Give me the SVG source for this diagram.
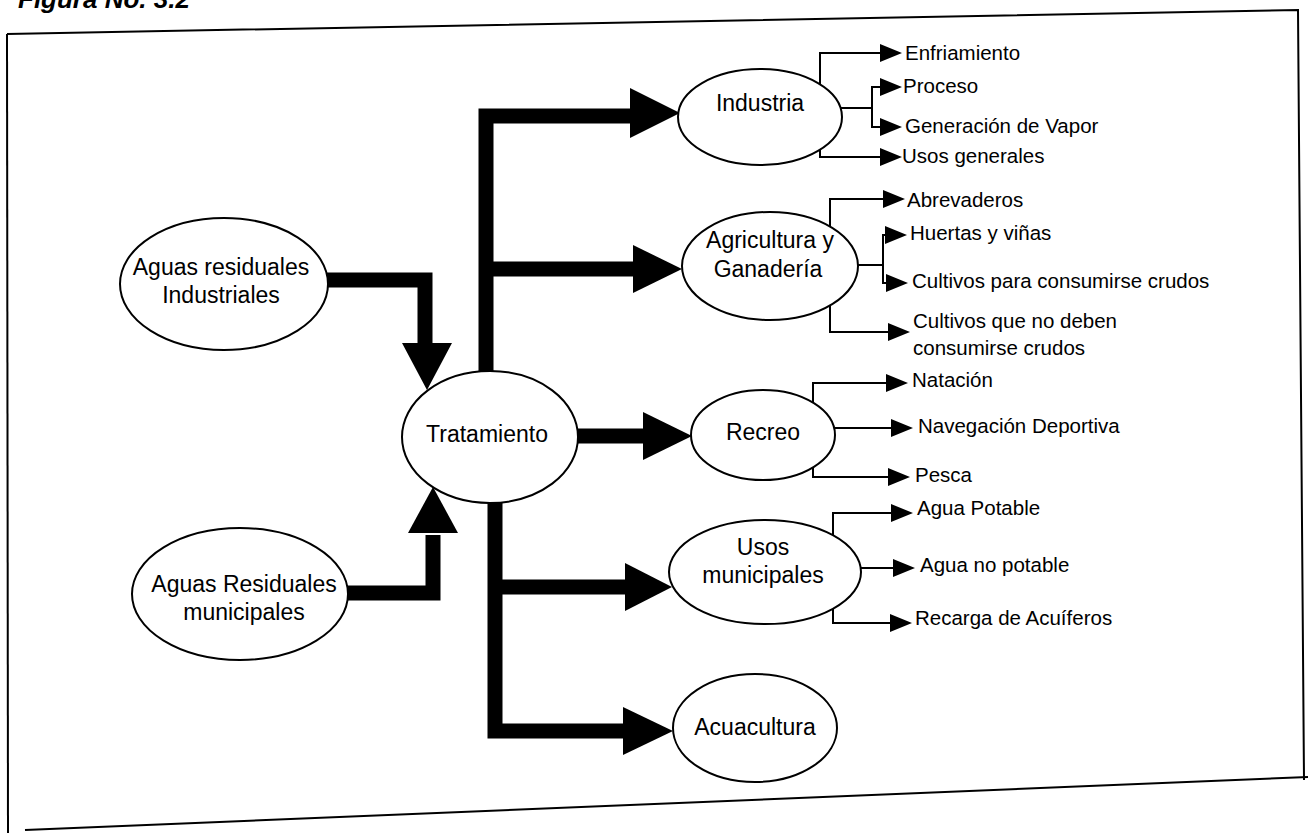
<svg xmlns="http://www.w3.org/2000/svg" width="1308" height="833" viewBox="0 0 1308 833">
<defs>
<style>
.node{fill:#fff;stroke:#000;stroke-width:2}
.big{font-family:"Liberation Sans",Arial,sans-serif;font-size:23px;fill:#000}
.lbl{font-family:"Liberation Sans",Arial,sans-serif;font-size:20.5px;fill:#000}
.thick{fill:none;stroke:#000;stroke-width:15;stroke-linejoin:miter}
.thin{fill:none;stroke:#000;stroke-width:2}
.frame{fill:none;stroke:#000;stroke-width:2}
.head{fill:#000}
</style>
</defs>
<rect width="1308" height="833" fill="#fff"/>
<text x="18" y="8" font-family="Liberation Sans,Arial,sans-serif" font-size="26" font-weight="bold" font-style="italic">Figura No. 3.2</text>
<g id="frame">
<path class="frame" d="M7,34 L1298,10 L1304,780"/>
<path class="frame" d="M7,34 L8,833"/>
<path class="frame" d="M25,830 L1308,777"/>
</g>
<g id="connectors">
<path class="thick" d="M326,280 L425,280 L425,345"/>
<path class="head" d="M402,343 L452,343 L427,390 Z"/>
<path class="thick" d="M346,593 L433,593 L433,535"/>
<path class="head" d="M408,533 L458,533 L433,487 Z"/>
<path class="thick" d="M486,375 L486,116 L632,116"/>
<path class="head" d="M630,88 L680,113 L630,138 Z"/>
<path class="thick" d="M486,269 L634,269"/>
<path class="head" d="M633,245 L682,269 L633,293 Z"/>
<path class="thick" d="M576,436 L645,436"/>
<path class="head" d="M643,412 L692,436 L643,460 Z"/>
<path class="thick" d="M495,500 L495,731 L625,731"/>
<path class="head" d="M623,707 L673,731 L623,755 Z"/>
<path class="thick" d="M495,587 L627,587"/>
<path class="head" d="M625,563 L672,587 L625,611 Z"/>
<path class="thin" d="M880,53 L820,53 L820,157 L880,157"/>
<path class="thin" d="M840,108 L872,108 M880,87 L872,87 L872,127 L880,127"/>
<path class="head" d="M880,44 L902,53 L880,62 Z M880,78 L902,87 L880,96 Z M880,118 L902,127 L880,136 Z M880,148 L902,157 L880,166 Z"/>
<path class="thin" d="M883,199 L830,199 L830,332 L888,332"/>
<path class="thin" d="M856,265 L883,265 M886,235 L883,235 L883,283 L886,283"/>
<path class="head" d="M883,190 L905,199 L883,208 Z M885,226 L907,235 L885,244 Z M886,274 L908,283 L886,292 Z M888,323 L910,332 L888,341 Z"/>
<path class="thin" d="M886,383 L813,383 L813,477 L888,477"/>
<path class="thin" d="M833,428 L891,428"/>
<path class="head" d="M886,374 L908,383 L886,392 Z M891,419 L913,428 L891,437 Z M888,468 L910,477 L888,486 Z"/>
<path class="thin" d="M891,513 L833,513 L833,623 L890,623"/>
<path class="thin" d="M860,568 L893,568"/>
<path class="head" d="M891,504 L913,513 L891,522 Z M893,559 L915,568 L893,577 Z M890,614 L912,623 L890,632 Z"/>
</g>
<g id="n-ind-in">
<ellipse class="node" cx="224" cy="284" rx="104" ry="66"/>
<text class="big" x="221" y="275" text-anchor="middle">Aguas residuales</text>
<text class="big" x="221" y="303" text-anchor="middle">Industriales</text>
</g>
<g id="n-mun-in">
<ellipse class="node" cx="240" cy="594" rx="108" ry="66"/>
<text class="big" x="244" y="592" text-anchor="middle">Aguas Residuales</text>
<text class="big" x="244" y="620" text-anchor="middle">municipales</text>
</g>
<g id="n-trat">
<ellipse class="node" cx="490" cy="437" rx="88" ry="66"/>
<text class="big" x="487" y="442" text-anchor="middle">Tratamiento</text>
</g>
<g id="n-industria">
<ellipse class="node" cx="760" cy="117" rx="82" ry="48"/>
<text class="big" x="760" y="111" text-anchor="middle">Industria</text>
</g>
<g id="n-agri">
<ellipse class="node" cx="770" cy="266" rx="88" ry="54"/>
<text class="big" x="770" y="248" text-anchor="middle">Agricultura y</text>
<text class="big" x="768" y="277" text-anchor="middle">Ganadería</text>
</g>
<g id="n-recreo">
<ellipse class="node" cx="763" cy="435" rx="72" ry="45"/>
<text class="big" x="763" y="440" text-anchor="middle">Recreo</text>
</g>
<g id="n-usos">
<ellipse class="node" cx="765" cy="572" rx="96" ry="52"/>
<text class="big" x="763" y="555" text-anchor="middle">Usos</text>
<text class="big" x="763" y="583" text-anchor="middle">municipales</text>
</g>
<g id="n-acua">
<ellipse class="node" cx="755" cy="728" rx="82" ry="54"/>
<text class="big" x="755" y="735" text-anchor="middle">Acuacultura</text>
</g>
<g id="labels">
<text class="lbl" x="905" y="60">Enfriamiento</text>
<text class="lbl" x="903" y="93">Proceso</text>
<text class="lbl" x="905" y="133">Generación de Vapor</text>
<text class="lbl" x="902" y="163">Usos generales</text>
<text class="lbl" x="907" y="207">Abrevaderos</text>
<text class="lbl" x="910" y="240">Huertas y viñas</text>
<text class="lbl" x="912" y="288">Cultivos para consumirse crudos</text>
<text class="lbl" x="913" y="328">Cultivos que no deben</text>
<text class="lbl" x="913" y="355">consumirse crudos</text>
<text class="lbl" x="912" y="387">Natación</text>
<text class="lbl" x="918" y="433">Navegación Deportiva</text>
<text class="lbl" x="915" y="482">Pesca</text>
<text class="lbl" x="917" y="515">Agua Potable</text>
<text class="lbl" x="920" y="572">Agua no potable</text>
<text class="lbl" x="915" y="625">Recarga de Acuíferos</text>
</g>
</svg>
